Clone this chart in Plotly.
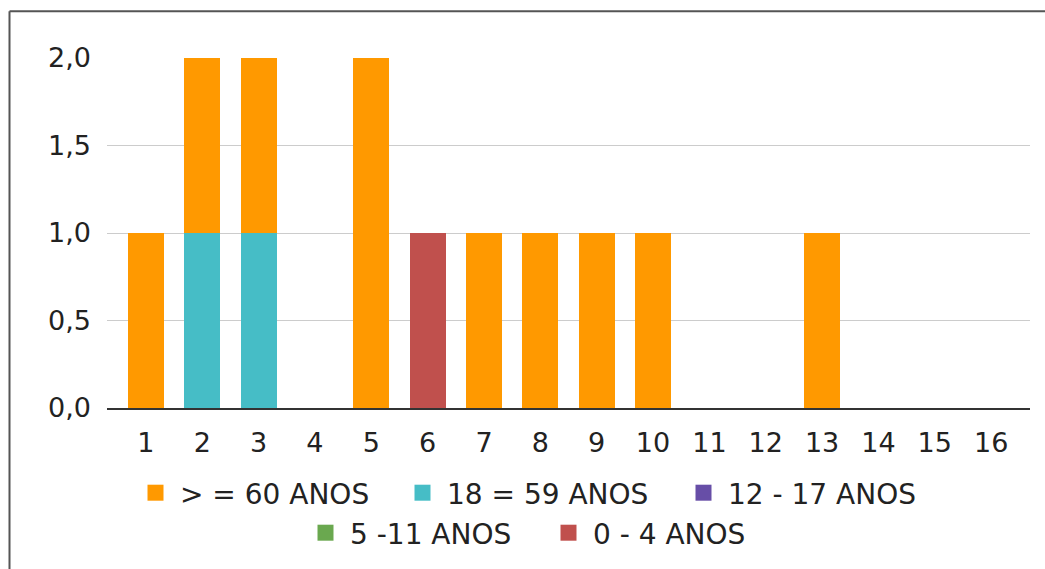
import plotly.graph_objects as go

categories = list(range(1, 17))
tick_labels = [str(c) for c in categories]

series_names = ["> = 60 ANOS", "18 = 59 ANOS", "12 - 17 ANOS", "5 -11 ANOS", "0 - 4 ANOS"]
v_60_plus = [1, 1, 1, 0, 2, 0, 1, 1, 1, 1, 0, 0, 1, 0, 0, 0]
v_18_59 = [0, 1, 1, 0, 0, 0, 0, 0, 0, 0, 0, 0, 0, 0, 0, 0]
v_12_17 = [0] * 16
v_5_11 = [0] * 16
v_0_4 = [0, 0, 0, 0, 0, 1, 0, 0, 0, 0, 0, 0, 0, 0, 0, 0]

colors = {
    "> = 60 ANOS": "#FF9900",
    "18 = 59 ANOS": "#46BDC6",
    "12 - 17 ANOS": "#674EA7",
    "5 -11 ANOS": "#6AA84F",
    "0 - 4 ANOS": "#C0504D",
}
values = {
    "> = 60 ANOS": v_60_plus,
    "18 = 59 ANOS": v_18_59,
    "12 - 17 ANOS": v_12_17,
    "5 -11 ANOS": v_5_11,
    "0 - 4 ANOS": v_0_4,
}

FONT = "DejaVu Sans"
FS = 27
LFS = 28
TXT = "#222222"

L, R, T, B = 107, 15, 58, 160
W, H = 1045, 569
pw = W - L - R
ph = H - T - B

def px_x(x):
    return (x - L) / pw

def px_y(y):
    return (H - B - y) / ph

# legend entry placement (pixel text-start x, row centre y)
legend_text_x = [180, 447, 728, 350, 593]
legend_row_y = [493, 493, 493, 533, 533]
ITEMW = 39
TEXTGAP = ITEMW + 10

fig = go.Figure()
stack_order = ["0 - 4 ANOS", "5 -11 ANOS", "12 - 17 ANOS", "18 = 59 ANOS", "> = 60 ANOS"]
for name in stack_order:
    fig.add_trace(go.Bar(
        x=categories, y=values[name], name=name,
        marker=dict(color=colors[name], line=dict(width=0)),
        width=0.64, showlegend=False, hoverinfo="skip",
    ))

legend_layouts = {}
for i, name in enumerate(series_names):
    key = "legend" if i == 0 else f"legend{i + 1}"
    fig.add_trace(go.Scatter(
        x=[None], y=[None], mode="markers", name=name,
        marker=dict(symbol="square", size=24, color=colors[name]),
        legend=key, hoverinfo="skip",
    ))
    legend_layouts[key] = dict(
        orientation="h", xanchor="left", yanchor="middle",
        x=px_x(legend_text_x[i] - TEXTGAP), y=px_y(legend_row_y[i]),
        font=dict(family=FONT, size=LFS, color=TXT),
        bgcolor="rgba(0,0,0,0)", itemwidth=ITEMW,
        itemclick=False, itemdoubleclick=False,
    )

fig.update_layout(
    width=W, height=H,
    margin=dict(l=L, r=R, t=T, b=B, pad=0),
    paper_bgcolor="white", plot_bgcolor="white",
    barmode="stack",
    separators=",.",
    font=dict(family=FONT, size=FS, color=TXT),
    showlegend=True,
    xaxis=dict(
        range=[0.31, 16.69], tickmode="array", tickvals=categories, ticktext=tick_labels,
        showgrid=False, zeroline=False, showline=True, linecolor="#333333", linewidth=1.5,
        ticks="", ticklabelstandoff=10,
        tickfont=dict(family=FONT, size=FS, color=TXT),
        fixedrange=True,
    ),
    yaxis=dict(
        range=[0, 2.0], tick0=0, dtick=0.5, tickformat=".1f",
        showgrid=True, gridcolor="#CCCCCC", gridwidth=1,
        zeroline=False, showline=False, ticks="", ticklabelstandoff=15,
        tickfont=dict(family=FONT, size=FS, color=TXT),
        fixedrange=True,
    ),
    shapes=[
        dict(type="line", xref="paper", yref="paper",
             x0=px_x(9.5), x1=px_x(1050), y0=px_y(11), y1=px_y(11),
             line=dict(color="#555555", width=2)),
        dict(type="line", xref="paper", yref="paper",
             x0=px_x(9.5), x1=px_x(9.5), y0=px_y(11), y1=px_y(580),
             line=dict(color="#555555", width=2)),
    ],
    **legend_layouts,
)

fig.write_html("out.html", config={"displayModeBar": False},
               post_script="document.body.style.margin='0px';")
